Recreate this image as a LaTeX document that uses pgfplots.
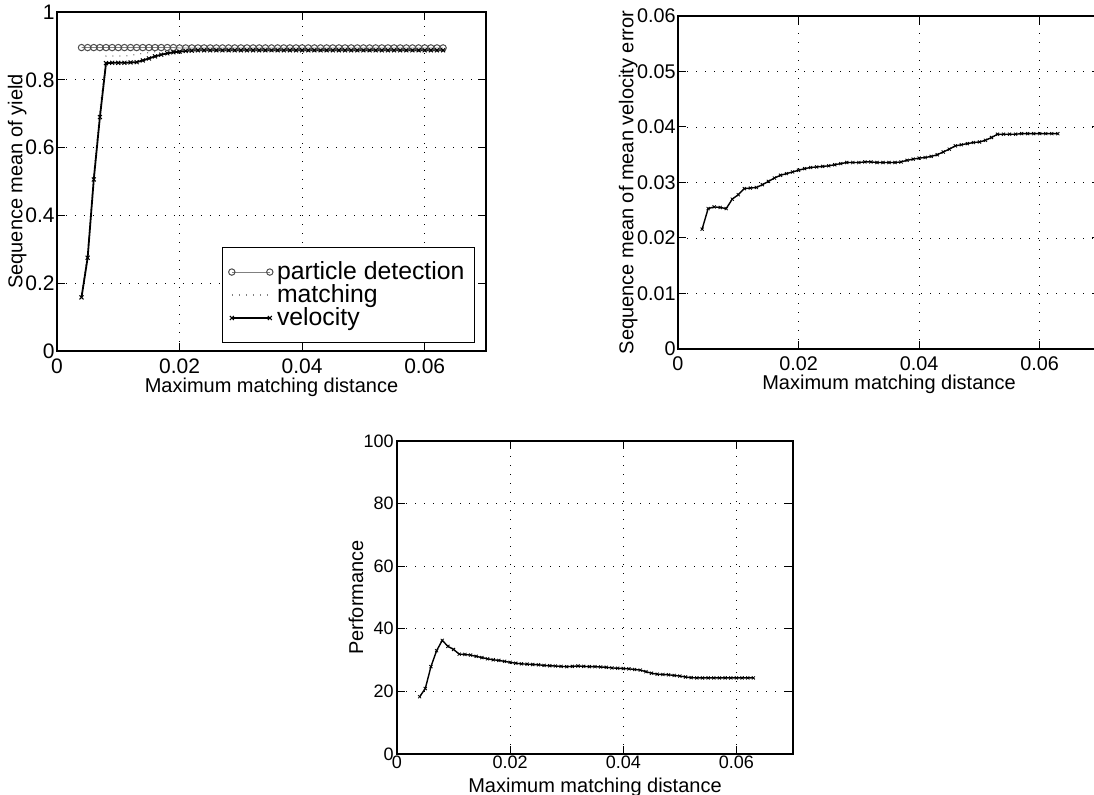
\documentclass[border=0pt]{standalone}
\usepackage{fontspec}
\setmainfont{Liberation Sans}
\usepackage{pgfplots}
\pgfplotsset{compat=1.18}
\usepackage{pgfplotstable}

\pgfplotstableread{
x pd m v
0.004 0.895 0.17 0.158
0.005 0.895 0.29 0.275
0.006 0.895 0.52 0.506
0.007 0.895 0.71 0.690
0.008 0.895 0.87 0.849
0.009 0.895 0.87 0.850
0.010 0.895 0.87 0.850
0.011 0.895 0.870 0.850
0.012 0.895 0.872 0.851
0.013 0.895 0.875 0.852
0.014 0.895 0.878 0.857
0.015 0.895 0.880 0.863
0.016 0.895 0.883 0.869
0.017 0.895 0.886 0.874
0.018 0.895 0.888 0.878
0.019 0.895 0.889 0.881
0.020 0.894 0.890 0.883
0.021 0.894 0.890 0.885
0.022 0.894 0.889 0.886
0.023 0.894 0.889 0.887
0.024 0.894 0.889 0.887
0.025 0.894 0.889 0.887
0.026 0.894 0.889 0.887
0.027 0.894 0.889 0.887
0.028 0.894 0.889 0.887
0.029 0.894 0.889 0.887
0.030 0.894 0.889 0.887
0.031 0.894 0.889 0.887
0.032 0.894 0.889 0.887
0.033 0.894 0.889 0.887
0.034 0.894 0.889 0.887
0.035 0.894 0.889 0.887
0.036 0.894 0.889 0.887
0.037 0.894 0.889 0.887
0.038 0.894 0.889 0.887
0.039 0.894 0.889 0.887
0.040 0.894 0.889 0.887
0.041 0.894 0.889 0.887
0.042 0.894 0.889 0.887
0.043 0.894 0.889 0.887
0.044 0.894 0.889 0.887
0.045 0.894 0.889 0.887
0.046 0.894 0.889 0.887
0.047 0.894 0.889 0.887
0.048 0.894 0.889 0.887
0.049 0.894 0.889 0.887
0.050 0.894 0.889 0.887
0.051 0.894 0.889 0.887
0.052 0.894 0.889 0.887
0.053 0.894 0.889 0.887
0.054 0.894 0.889 0.887
0.055 0.894 0.889 0.887
0.056 0.894 0.889 0.887
0.057 0.894 0.889 0.887
0.058 0.894 0.889 0.887
0.059 0.894 0.889 0.887
0.060 0.894 0.889 0.887
0.061 0.894 0.889 0.887
0.062 0.894 0.889 0.887
0.063 0.894 0.889 0.887
}\yieldtab

\pgfplotstableread{
x e
0.004 0.0216
0.005 0.0253
0.006 0.0256
0.007 0.0255
0.008 0.0253
0.009 0.0270
0.010 0.0278
0.011 0.0289
0.012 0.0290
0.013 0.0291
0.014 0.0296
0.015 0.0302
0.016 0.0308
0.017 0.0313
0.018 0.0316
0.019 0.0319
0.020 0.0322
0.021 0.0325
0.022 0.0327
0.023 0.0328
0.024 0.0329
0.025 0.0330
0.026 0.0332
0.027 0.0334
0.028 0.0336
0.029 0.0336
0.030 0.0336
0.031 0.0337
0.032 0.0337
0.033 0.0336
0.034 0.0336
0.035 0.0336
0.036 0.0336
0.037 0.0337
0.038 0.0340
0.039 0.0342
0.040 0.0344
0.041 0.0345
0.042 0.0347
0.043 0.0350
0.044 0.0355
0.045 0.0360
0.046 0.0366
0.047 0.0368
0.048 0.0370
0.049 0.0372
0.050 0.0373
0.051 0.0376
0.052 0.0381
0.053 0.0387
0.054 0.0387
0.055 0.0387
0.056 0.0387
0.057 0.0388
0.058 0.0388
0.059 0.0388
0.060 0.0388
0.061 0.0388
0.062 0.0388
0.063 0.0388
}\errtab

\pgfplotstableread{
x p
0.004 18.3
0.005 20.9
0.006 27.9
0.007 33.0
0.008 36.3
0.009 34.4
0.010 33.4
0.011 31.9
0.012 31.8
0.013 31.6
0.014 31.2
0.015 30.8
0.016 30.4
0.017 30.1
0.018 29.9
0.019 29.6
0.020 29.3
0.021 29.0
0.022 28.8
0.023 28.7
0.024 28.6
0.025 28.5
0.026 28.3
0.027 28.2
0.028 28.1
0.029 28.0
0.030 27.9
0.031 28.0
0.032 28.1
0.033 28.0
0.034 27.9
0.035 27.9
0.036 27.8
0.037 27.7
0.038 27.5
0.039 27.4
0.040 27.3
0.041 27.2
0.042 27.0
0.043 26.8
0.044 26.3
0.045 25.8
0.046 25.5
0.047 25.4
0.048 25.3
0.049 25.1
0.050 24.9
0.051 24.6
0.052 24.4
0.053 24.3
0.054 24.3
0.055 24.3
0.056 24.3
0.057 24.3
0.058 24.3
0.059 24.3
0.060 24.3
0.061 24.3
0.062 24.3
0.063 24.3
}\perftab

\pgfplotsset{
  mstyle/.style={
    scale only axis,
    xmin=0, xmax=0.07,
    xtick={0,0.02,0.04,0.06},
    xticklabels={0,0.02,0.04,0.06},
    scaled ticks=false,
    /pgf/number format/assume math mode=true,
    grid=major,
    major grid style={black, line width=0.4pt, dash pattern=on 0.5pt off 4pt},
    axis line style={line width=0.7pt},
    tick style={black, line width=0.5pt},
    major tick length=4pt,
    tick align=inside,
    xlabel={Maximum matching distance},
  },
}

\begin{document}
\begin{tikzpicture}
\useasboundingbox (0,0) rectangle (547pt,397.5pt);

% top-left
\begin{axis}[mstyle,
  at={(28.5pt,222pt)}, anchor=south west,
  width=214.5pt, height=169.5pt,
  ymin=0, ymax=1,
  ytick={0,0.2,0.4,0.6,0.8,1},
  yticklabels={0,0.2,0.4,0.6,0.8,1},
  ticklabel style={font=\fontsize{10.5}{12}\selectfont},
  yticklabel style={inner sep=1pt},
  xticklabel style={inner sep=3.5pt},
  label style={font=\fontsize{9.6}{11}\selectfont},
  ylabel={Sequence mean of yield},
  every axis y label/.style={at={(axis description cs:-0.093,0.5)}, rotate=90, anchor=center},
  every axis x label/.style={at={(axis description cs:0.5,-0.108)}, anchor=center},
  legend style={at={(1,0)}, anchor=south east, xshift=-5.5pt, yshift=4pt,
    font=\fontsize{12.4}{12}\selectfont, draw=black, line width=0.5pt,
    row sep=-3pt, inner xsep=3pt, inner ysep=5pt},
  legend cell align=left,
  legend image code/.code={\draw[#1] plot coordinates {(0pt,0pt) (19pt,0pt)};},
]
\addplot[gray, line width=0.4pt, mark=o, mark size=1.6pt, mark options={solid, gray!60!black, line width=0.5pt}] table[x=x, y=pd] {\yieldtab};
\addlegendentry{particle detection}
\addplot[gray, line width=0.6pt, dash pattern=on 0.5pt off 3pt] table[x=x, y=m] {\yieldtab};
\addlegendentry{matching}
\addplot[black, line width=0.9pt, mark=x, mark size=1.4pt, mark options={solid, line width=0.5pt}] table[x=x, y=v] {\yieldtab};
\addlegendentry{velocity}
\end{axis}

% top-right
\begin{axis}[mstyle,
  at={(339pt,223pt)}, anchor=south west,
  width=211pt, height=166.5pt,
  ymin=0, ymax=0.06,
  ytick={0,0.01,0.02,0.03,0.04,0.05,0.06},
  yticklabels={0,0.01,0.02,0.03,0.04,0.05,0.06},
  ticklabel style={font=\fontsize{9.9}{11}\selectfont},
  yticklabel style={inner sep=1pt},
  xticklabel style={inner sep=3.5pt},
  label style={font=\fontsize{9.4}{11}\selectfont},
  ylabel={Sequence mean of mean velocity error},
  every axis y label/.style={at={(axis description cs:-0.118,0.5)}, rotate=90, anchor=center},
  every axis x label/.style={at={(axis description cs:0.5,-0.105)}, anchor=center},
]
\addplot[black, line width=0.7pt, mark=x, mark size=1.1pt, mark options={solid, line width=0.4pt}] table[x=x, y=e] {\errtab};
\end{axis}

% bottom
\begin{axis}[mstyle,
  at={(198.5pt,20.5pt)}, anchor=south west,
  width=198pt, height=156.5pt,
  ymin=0, ymax=100,
  ytick={0,20,40,60,80,100},
  yticklabels={0,20,40,60,80,100},
  ticklabel style={font=\fontsize{9}{10}\selectfont},
  yticklabel style={inner sep=1.5pt},
  xticklabel style={inner sep=1pt},
  label style={font=\fontsize{8.9}{10}\selectfont},
  ylabel={Performance},
  every axis y label/.style={at={(axis description cs:-0.1035,0.5)}, rotate=90, anchor=center},
  every axis x label/.style={at={(axis description cs:0.5,-0.108)}, anchor=center},
]
\addplot[black, line width=0.7pt, mark=x, mark size=1.1pt, mark options={solid, line width=0.4pt}] table[x=x, y=p] {\perftab};
\end{axis}
\end{tikzpicture}
\end{document}
